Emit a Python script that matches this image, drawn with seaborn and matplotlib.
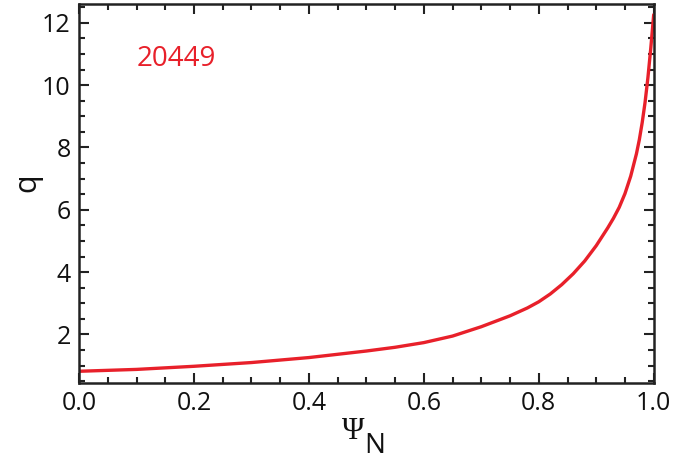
import numpy as np
import pandas as pd
import matplotlib
matplotlib.use("Agg")
import matplotlib.pyplot as plt
import seaborn as sns
from matplotlib.ticker import MultipleLocator

# q profile
psi_n = [0.0, 0.1, 0.2, 0.3, 0.4, 0.5, 0.55, 0.6, 0.65, 0.7, 0.75, 0.78, 0.8,
         0.82, 0.84, 0.86, 0.88, 0.9, 0.92, 0.93, 0.94, 0.95, 0.96, 0.97,
         0.975, 0.98, 0.985, 0.99, 0.995, 1.0]
q_vals = [0.82, 0.88, 0.98, 1.1, 1.26, 1.47, 1.59, 1.74, 1.95, 2.25, 2.6, 2.85, 3.05,
          3.3, 3.6, 3.95, 4.36, 4.85, 5.42, 5.73, 6.08, 6.52, 7.08, 7.8,
          8.25, 8.8, 9.45, 10.25, 11.2, 12.26]
shot = "20449"
x_ticks = [0.0, 0.2, 0.4, 0.6, 0.8, 1.0]
y_ticks = [2, 4, 6, 8, 10, 12]


def make_plot(df):
    sns.set_style("ticks")
    plt.rcParams["font.family"] = ["Open Sans", "DejaVu Sans"]

    fig = plt.figure(figsize=(6.76, 4.59), dpi=100)
    ax = fig.add_axes([0.117, 0.166, 0.85, 0.825])
    sns.lineplot(data=df, x="psi", y="q", color="#e8202a", linewidth=2.4, ax=ax)

    ax.set_xlim(0, 1.0)
    ax.set_ylim(0.45, 12.6)
    ax.set_xticks(x_ticks)
    ax.set_xticklabels([f"{t:.1f}" for t in x_ticks])
    ax.set_yticks(y_ticks)
    ax.xaxis.set_minor_locator(MultipleLocator(0.05))
    ax.yaxis.set_minor_locator(MultipleLocator(0.5))
    ax.tick_params(which="both", direction="in", top=True, right=True,
                   width=1.5, color="#222222", labelsize=18, labelcolor="#111111")
    ax.tick_params(which="major", length=7, pad=6)
    ax.tick_params(which="minor", length=4)
    for s in ax.spines.values():
        s.set_linewidth(1.8)
        s.set_color("#222222")

    # x label: serif Psi with a full-size lowered N
    ax.set_xlabel("")
    fig.text(342 / 676, 1 - 439 / 459, "Ψ", family="Liberation Serif",
             fontsize=22, color="#111111", ha="left", va="baseline")
    fig.text(364 / 676, 1 - 453 / 459, "N", fontsize=20, color="#111111",
             ha="left", va="baseline")
    ax.set_ylabel("")
    fig.text(12 / 676, 1 - 183 / 459, "q", fontsize=22, color="#111111",
             rotation=90, ha="left", va="center")
    ax.text(0.1, 10.83, shot, color="#e8202a", fontsize=20, va="center")

    fig.savefig("out.png", dpi=100)


def main():
    df = pd.DataFrame({"psi": psi_n, "q": q_vals})
    make_plot(df)


if __name__ == "__main__":
    main()
